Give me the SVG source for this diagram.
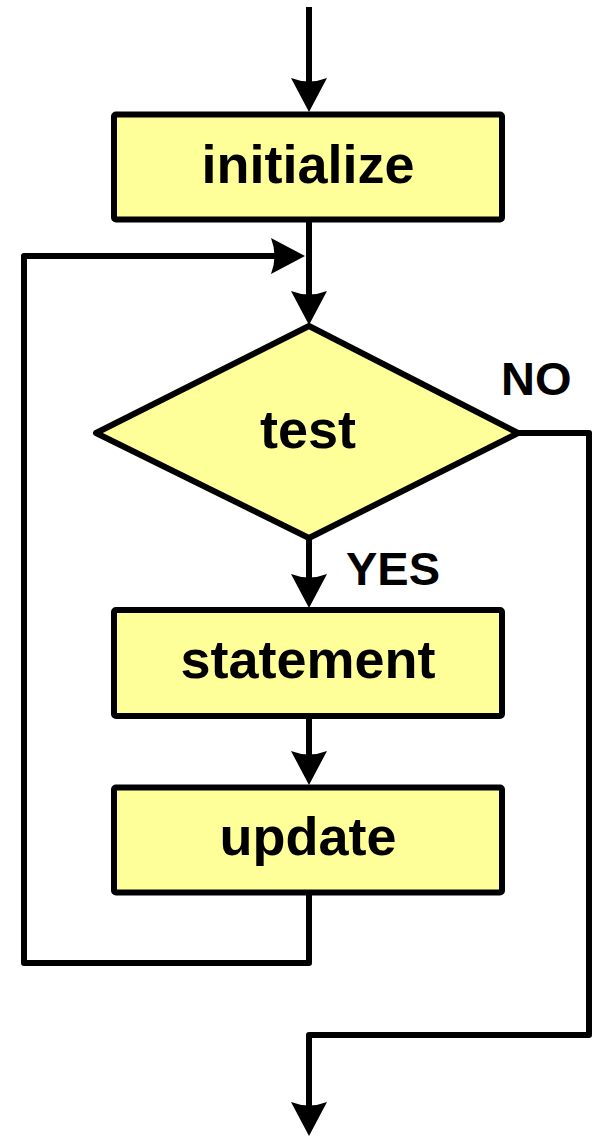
<svg xmlns="http://www.w3.org/2000/svg" width="594" height="1138" viewBox="0 0 594 1138">
  <style>
    .box { fill: #FFFF99; stroke: #000; stroke-width: 6; stroke-linejoin: round; }
    .label { font-family: "Liberation Sans", Arial, sans-serif; font-weight: bold; font-size: 54px; text-anchor: middle; fill: #000; }
    .branch { font-family: "Liberation Sans", Arial, sans-serif; font-weight: bold; font-size: 47px; fill: #000; }
    .flow { fill: none; stroke: #000; stroke-width: 6; stroke-linejoin: round; }
  </style>
  <defs>
    <!-- barbed arrowhead; its tip sits 10 units past the end of the line -->
    <marker id="arrow" markerUnits="userSpaceOnUse" markerWidth="50" markerHeight="40" refX="0" refY="0" orient="auto" overflow="visible">
      <path d="M10,0 L-24,-18 Q-17,0 -24,18 Z" fill="#000"/>
    </marker>
  </defs>

  <!-- connectors -->
  <g id="connectors">
    <path class="flow" d="M309,7 L309,102" marker-end="url(#arrow)"/>
    <path class="flow" d="M309,219 L309,315" marker-end="url(#arrow)"/>
    <path class="flow" d="M309,538 L309,598" marker-end="url(#arrow)"/>
    <path class="flow" d="M309,716 L309,775" marker-end="url(#arrow)"/>
    <path class="flow" d="M309,892 L309,963 L24,963 L24,256 L295,256" marker-end="url(#arrow)"/>
    <path class="flow" d="M518,433 L589,433 L589,1035 L309,1035 L309,1126" marker-end="url(#arrow)"/>
    <text class="branch" x="501" y="395">NO</text>
    <text class="branch" x="346" y="585">YES</text>
  </g>

  <g id="initialize">
    <rect class="box" x="114" y="114.5" width="388" height="105" rx="2"/>
    <text class="label" x="308" y="183">initialize</text>
  </g>

  <g id="test">
    <polygon class="box" points="309,326 518,433 309,538 96,433"/>
    <text class="label" x="308" y="448">test</text>
  </g>

  <g id="statement">
    <rect class="box" x="114" y="610" width="388" height="106" rx="2"/>
    <text class="label" x="308" y="678">statement</text>
  </g>

  <g id="update">
    <rect class="box" x="114" y="787.5" width="388" height="105" rx="2"/>
    <text class="label" x="308" y="855">update</text>
  </g>
</svg>
